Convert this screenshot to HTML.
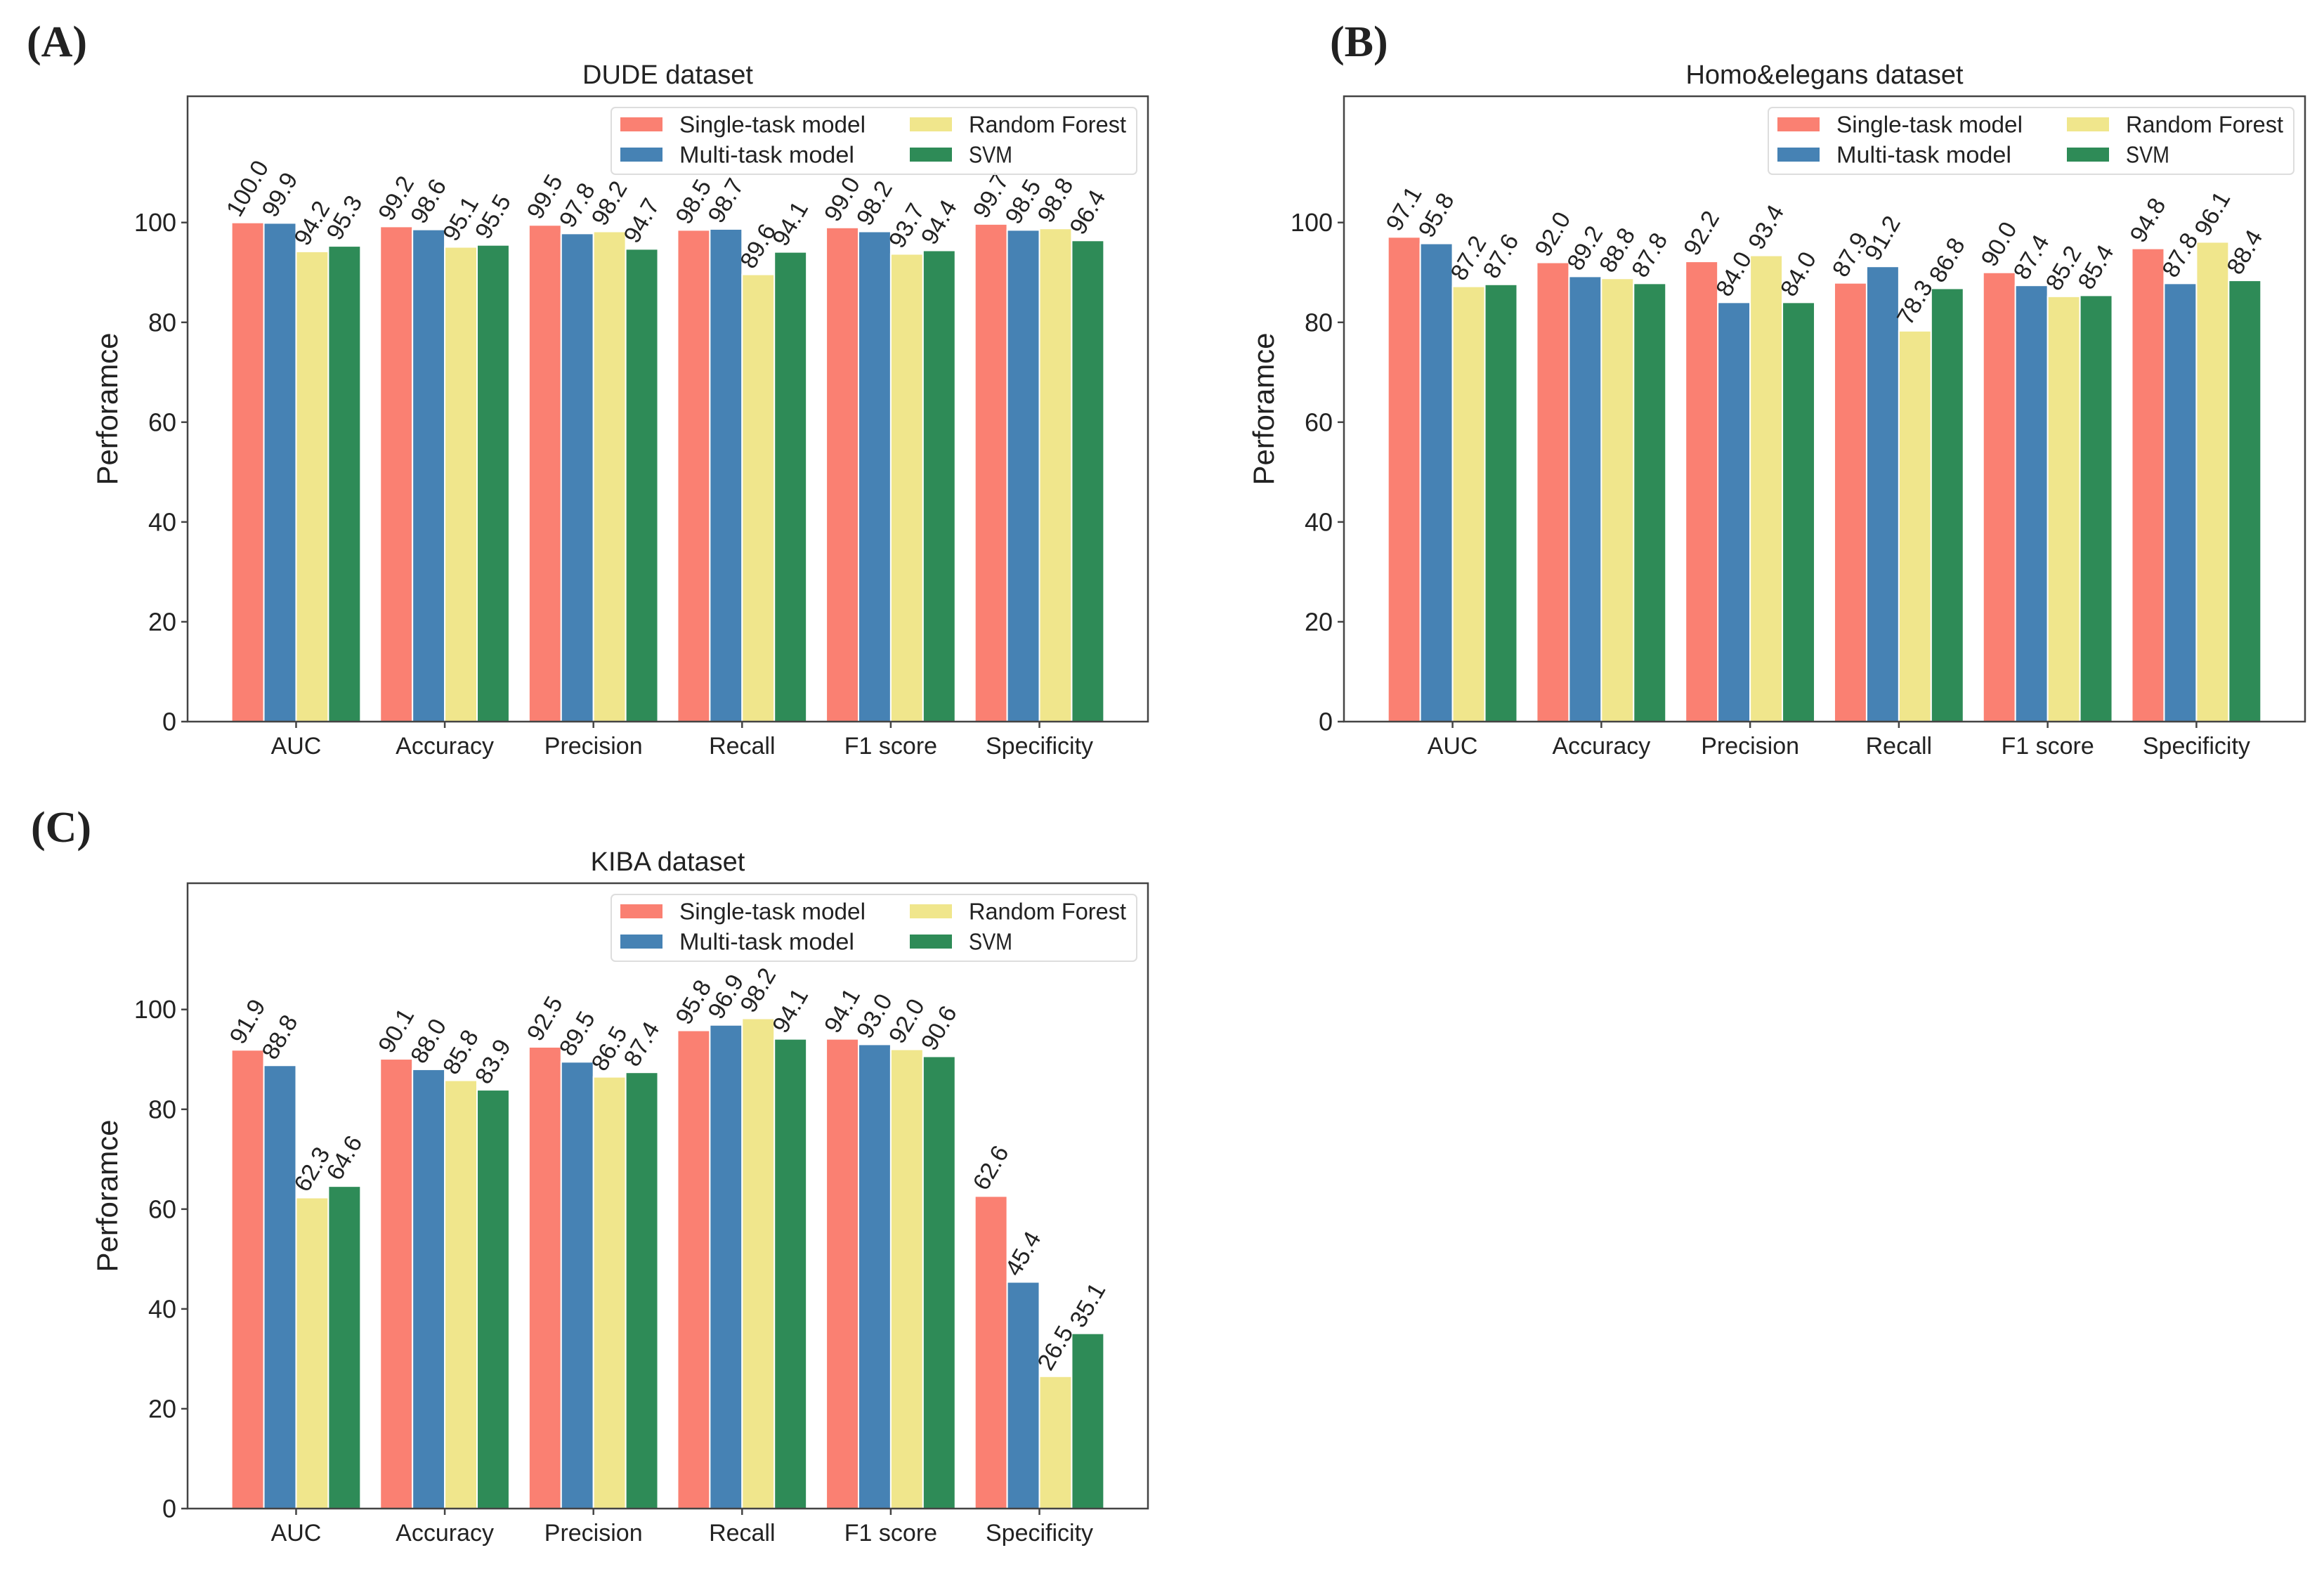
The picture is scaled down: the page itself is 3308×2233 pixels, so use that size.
<!DOCTYPE html>
<html><head><meta charset="utf-8"><style>
html,body{margin:0;padding:0;background:#fff;}
svg{display:block;}
text{font-family:"Liberation Sans","DejaVu Sans",sans-serif;fill:#222;}
</style></head><body>
<svg id="fig" width="3308" height="2233" viewBox="0 0 3308 2233" xmlns="http://www.w3.org/2000/svg">
<rect x="0" y="0" width="3308" height="2233" fill="#fff"/>
<text x="38" y="80" style="font-family:'Liberation Serif',serif;font-weight:bold;font-size:62px" fill="#222">(A)</text>
<text x="1893" y="80" style="font-family:'Liberation Serif',serif;font-weight:bold;font-size:62px" fill="#222">(B)</text>
<text x="44" y="1198" style="font-family:'Liberation Serif',serif;font-weight:bold;font-size:62px" fill="#222">(C)</text>
</svg>
<script>
const categories = ["AUC","Accuracy","Precision","Recall","F1 score","Specificity"];
const seriesNames = ["Single-task model","Multi-task model","Random Forest","SVM"];
const yTicks = [0,20,40,60,80,100];

const dudeSingle = [100.0,99.2,99.5,98.5,99.0,99.7];
const dudeMulti  = [99.9,98.6,97.8,98.7,98.2,98.5];
const dudeRF     = [94.2,95.1,98.2,89.6,93.7,98.8];
const dudeSVM    = [95.3,95.5,94.7,94.1,94.4,96.4];

const homoSingle = [97.1,92.0,92.2,87.9,90.0,94.8];
const homoMulti  = [95.8,89.2,84.0,91.2,87.4,87.8];
const homoRF     = [87.2,88.8,93.4,78.3,85.2,96.1];
const homoSVM    = [87.6,87.8,84.0,86.8,85.4,88.4];

const kibaSingle = [91.9,90.1,92.5,95.8,94.1,62.6];
const kibaMulti  = [88.8,88.0,89.5,96.9,93.0,45.4];
const kibaRF     = [62.3,85.8,86.5,98.2,92.0,26.5];
const kibaSVM    = [64.6,83.9,87.4,94.1,90.6,35.1];

const colors = ["#FA8072","#4682B4","#F0E68C","#2E8B57"];
const NS = "http://www.w3.org/2000/svg";
const svg = document.getElementById("fig");

function mk(tag, attrs, parent){
  const e = document.createElementNS(NS, tag);
  for (const k in attrs) e.setAttribute(k, attrs[k]);
  (parent||svg).appendChild(e);
  return e;
}

function drawPanel(key, title, left, right, top, bottom, series){
  const g = mk("g", {});
  
  
  const xmin = -0.73, xmax = 5.73, ymax = 125.3;
  const xs = v => left + (v - xmin) / (xmax - xmin) * (right - left);
  const ys = v => bottom - v / ymax * (bottom - top);
  const bw = 0.217;
  series.forEach((vals, si) => {
    vals.forEach((v, ci) => {
      const cx = ci + (si - 1.5) * bw;
      const x0 = xs(cx - bw/2), x1 = xs(cx + bw/2);
      const r = mk("rect", {x: x0, y: ys(v), width: x1 - x0, height: ys(0) - ys(v), fill: colors[si], stroke: "#fff", "stroke-width": 2}, g);
      
      
    });
  });
  const fs = 34, ang = 60 * Math.PI/180;
  series.forEach((vals, si) => {
    vals.forEach((v, ci) => {
      const cx = xs(ci + (si - 1.5) * bw);
      const t = mk("text", {"font-size": fs, "text-anchor": "middle", "dominant-baseline": "central"}, g);
      t.textContent = v.toFixed(1);
      
      
      const w = t.getComputedTextLength();
      const h = fs * 1.0;
      const bbH = w * Math.sin(ang) + h * Math.cos(ang);
      const cy = ys(v) - 3 - bbH/2;
      t.setAttribute("x", cx); t.setAttribute("y", cy);
      t.setAttribute("transform", "rotate(-60 " + cx + " " + cy + ")");
    });
  });
  const fr = mk("rect", {x: left, y: top, width: right-left, height: bottom-top, fill: "none", stroke: "#444", "stroke-width": 2.5}, g);
  
  
  yTicks.forEach(v => {
    const y = ys(v);
    mk("line", {x1: left-9, x2: left, y1: y, y2: y, stroke: "#444", "stroke-width": 2.5}, g);
    const t = mk("text", {x: left-16, y: y, "font-size": 36, "text-anchor": "end", "dominant-baseline": "central"}, g);
    t.textContent = v;
    
    
  });
  categories.forEach((c, ci) => {
    const x = xs(ci);
    mk("line", {x1: x, x2: x, y1: bottom, y2: bottom+9, stroke: "#444", "stroke-width": 2.5}, g);
    const t = mk("text", {x: x, y: bottom+46, "font-size": 34, "text-anchor": "middle"}, g);
    t.textContent = c;
    
    
  });
  const yl = mk("text", {x: 0, y: 0, "font-size": 42, "text-anchor": "middle", transform: "translate(" + (left-100) + "," + ((top+bottom)/2) + ") rotate(-90)"}, g);
  yl.textContent = "Perforamce";
  
  
  const tt = mk("text", {x: (left+right)/2, y: top-18, "font-size": 38, "text-anchor": "middle"}, g);
  tt.textContent = title;
  
  
  const lg = mk("g", {}, g);
  
  
  const L = right - 764, T = top + 16;
  mk("rect", {x: L, y: T, width: 748, height: 95, rx: 6, fill: "#fff", "fill-opacity": 0.85, stroke: "#ddd", "stroke-width": 2}, lg);
  const colX = [L + 13, L + 425];
  const rowY = [T + 24, T + 67];
  const lens = [265, 249, 224, 62];
  const order = [[0,0],[1,0],[0,1],[1,1]];
  seriesNames.forEach((n, si) => {
    const [r, c] = order[si];
    const sw = mk("rect", {x: colX[c], y: rowY[r]-10, width: 60, height: 20, fill: colors[si]}, lg);
    
    
    const t = mk("text", {x: colX[c] + 84, y: rowY[r], "font-size": 33, "dominant-baseline": "central", textLength: lens[si], lengthAdjust: "spacingAndGlyphs"}, lg);
    t.textContent = n;
    
    
  });
}

drawPanel("dude", "DUDE dataset", 267, 1634, 137, 1027, [dudeSingle, dudeMulti, dudeRF, dudeSVM]);
drawPanel("homo", "Homo&elegans dataset", 1913, 3281, 137, 1027, [homoSingle, homoMulti, homoRF, homoSVM]);
drawPanel("kiba", "KIBA dataset", 267, 1634, 1257, 2147, [kibaSingle, kibaMulti, kibaRF, kibaSVM]);
</script>
</body></html>
